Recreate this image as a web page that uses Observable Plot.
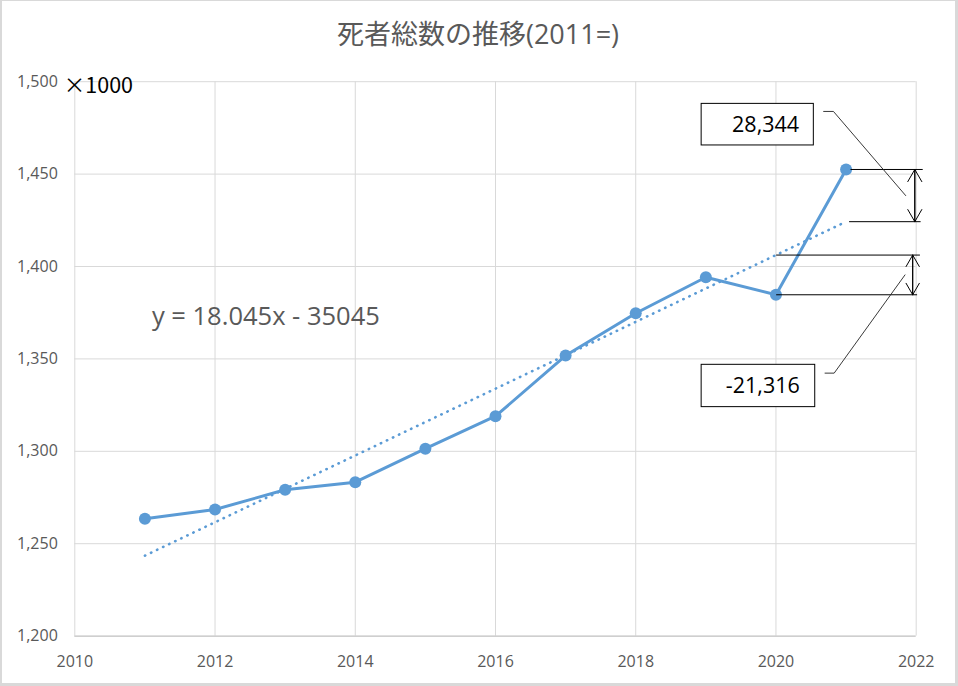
<!DOCTYPE html>
<html><head><meta charset="utf-8">
<script src="https://cdn.jsdelivr.net/npm/d3@7"></script>
<script src="https://cdn.jsdelivr.net/npm/@observablehq/plot@0.6"></script>
<style>
html,body{margin:0;padding:0;background:#fff;}
#wrap{position:relative;width:958px;height:686px;overflow:hidden;background:#fff;}
#wrap::after{content:"";position:absolute;left:0;top:0;right:0;bottom:0;border-style:solid;border-color:#d9d9d9;border-width:1px 3px 3px 2px;pointer-events:none;}
</style></head><body><div id="wrap"></div>
<script>
const title = "死者総数の推移(2011=)";
const unitLabel = "×1000";
const equationLabel = "y = 18.045x - 35045";
const gapLabels = ["28,344", "-21,316"];
const years = [2011, 2012, 2013, 2014, 2015, 2016, 2017, 2018, 2019, 2020, 2021];
const deaths = [1263.5, 1268.5, 1279.2, 1283.3, 1301.4, 1319.0, 1351.8, 1374.7, 1394.2, 1384.7, 1452.5];
const xTicks = [2010, 2012, 2014, 2016, 2018, 2020, 2022];
const yTicks = [1200, 1250, 1300, 1350, 1400, 1450, 1500];

const data = years.map((year, i) => ({year, value: deaths[i]}));

// least-squares trend from the data (same as the drawn regression line)
const mx = d3.mean(years), my = d3.mean(deaths);
const slope = d3.sum(years, (x, i) => (x - mx) * (deaths[i] - my)) / d3.sum(years, x => (x - mx) ** 2);
const intercept = my - slope * mx;
const trend = x => intercept + slope * x;

const v21 = deaths[years.indexOf(2021)], v20 = deaths[years.indexOf(2020)];
const t21 = trend(2021), t20 = trend(2020);
const mid1 = (v21 + t21) / 2, mid2 = (t20 + v20) / 2;

const dimRules = [
  {y: v21, x1: 2021.07, x2: 2022.10},
  {y: t21, x1: 2021.05, x2: 2022.07},
  {y: t20, x1: 2020.01, x2: 2022.06},
  {y: v20, x1: 2020.01, x2: 2022.02}
];
// double-headed dimension arrows: one arrow each way along the same shaft
const arrows = [
  {x1: 2021.98, y1: t21, x2: 2021.98, y2: v21},
  {x1: 2021.98, y1: v21, x2: 2021.98, y2: t21},
  {x1: 2021.95, y1: v20, x2: 2021.95, y2: t20},
  {x1: 2021.95, y1: t20, x2: 2021.95, y2: v20}
];
const leaders = [
  {k: 0, x: 2020.68, y: 1483.9}, {k: 0, x: 2020.82, y: 1483.9}, {k: 0, x: 2021.85, y: mid1},
  {k: 1, x: 2020.70, y: 1342.3}, {k: 1, x: 2020.83, y: 1342.3}, {k: 1, x: 2021.84, y: mid2}
];
const boxes = [
  {x1: 2018.94, x2: 2020.54, y1: 1465.5, y2: 1488.0},
  {x1: 2018.94, x2: 2020.56, y1: 1323.9, y2: 1346.8}
];
const boxTexts = [
  {x: 2020.33, y: 1476.6, t: gapLabels[0]},
  {x: 2020.34, y: 1335.2, t: gapLabels[1]}
];

const font = "'Open Sans', 'Noto Sans CJK JP', sans-serif";
const blue = "#5b9bd5";

const chart = Plot.plot({
  width: 958,
  height: 686,
  marginLeft: 74.3,
  marginRight: 42.3,
  marginTop: 81.2,
  marginBottom: 50.4,
  style: {fontFamily: font, fontSize: "16px", color: "#595959", background: "transparent", overflow: "visible"},
  x: {domain: [2010, 2022], label: null},
  y: {domain: [1200, 1500], label: null},
  marks: [
    Plot.gridX(xTicks, {stroke: "#d9d9d9", strokeOpacity: 1, strokeWidth: 1}),
    Plot.gridY(yTicks.slice(1), {stroke: "#d9d9d9", strokeOpacity: 1, strokeWidth: 1}),
    Plot.ruleY([1200], {stroke: "#bfbfbf", strokeWidth: 1.2}),
    Plot.linearRegressionY(data, {x: "year", y: "value", ci: 0, stroke: blue, strokeWidth: 2.6, strokeLinecap: "round", strokeDasharray: "0.4 6.3"}),
    Plot.line(data, {x: "year", y: "value", stroke: blue, strokeWidth: 3}),
    Plot.dot(data, {x: "year", y: "value", r: 6, fill: blue, stroke: null}),
    Plot.ruleY(dimRules, {y: "y", x1: "x1", x2: "x2", stroke: "#000", strokeWidth: 1}),
    Plot.arrow(arrows, {x1: "x1", y1: "y1", x2: "x2", y2: "y2", stroke: "#000", strokeWidth: 1, headLength: 21, headAngle: 60}),
    Plot.line(leaders, {x: "x", y: "y", z: "k", stroke: "#222", strokeWidth: 0.9}),
    Plot.rect(boxes, {x1: "x1", x2: "x2", y1: "y1", y2: "y2", fill: "#fff", stroke: "#000", strokeWidth: 1}),
    Plot.text(boxTexts, {x: "x", y: "y", text: "t", textAnchor: "end", fontSize: 21.5, fill: "#000"}),
    Plot.text([equationLabel], {x: 2011.1, y: 1372.6, text: d => d, textAnchor: "start", fontSize: 25.5, fill: "#595959"}),
    Plot.text([unitLabel], {frameAnchor: "top-left", dx: -11, dy: 4, text: d => d, textAnchor: "start", lineAnchor: "middle", fontSize: 21.5, fill: "#000", fontFamily: "'Noto Sans CJK JP', sans-serif"}),
    Plot.text([title], {frameAnchor: "top-left", dx: 403.2, dy: -46, text: d => d, textAnchor: "middle", lineAnchor: "middle", fontSize: 27, fill: "#595959"}),
    Plot.axisX({ticks: xTicks, tickFormat: d => String(d), tickSize: 0, tickPadding: 20, fontSize: 16}),
    Plot.axisY({ticks: yTicks, tickFormat: d3.format(","), tickSize: 0, tickPadding: 17, fontSize: 16})
  ]
});
document.getElementById("wrap").appendChild(chart);
</script>
</body></html>
